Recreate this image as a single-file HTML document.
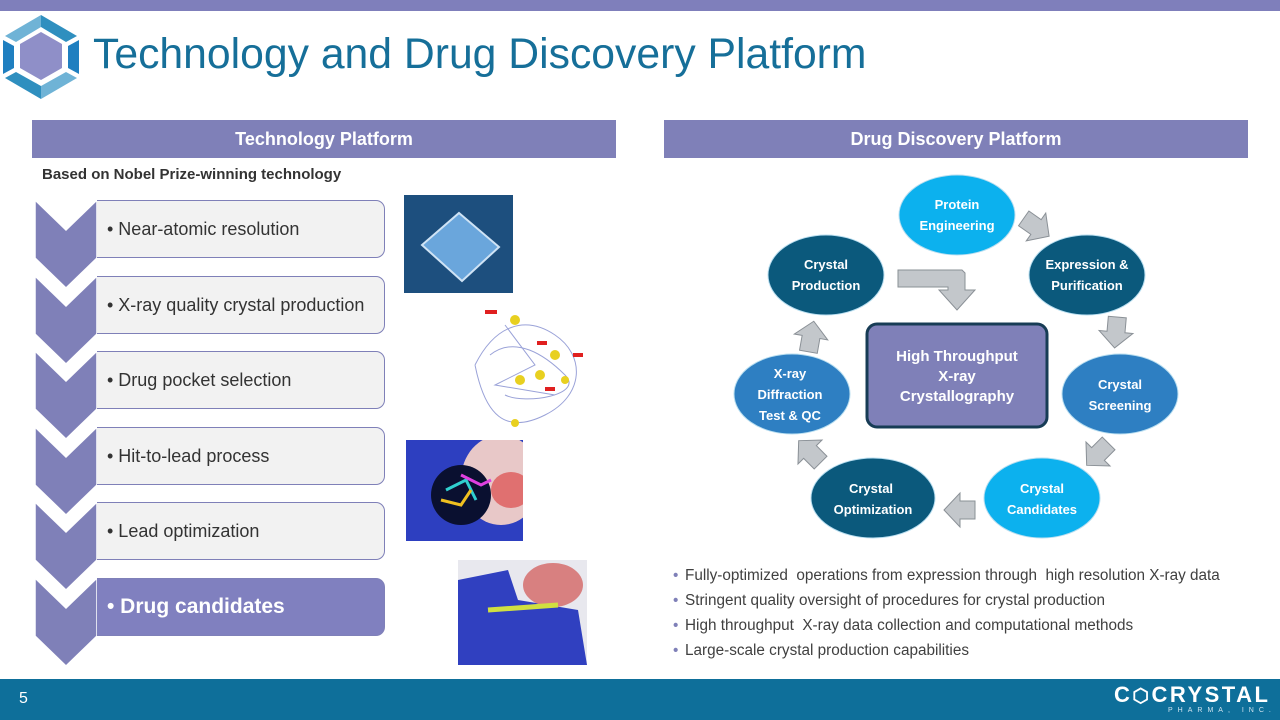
<!DOCTYPE html>
<html><head><meta charset="utf-8"><style>
body{margin:0;width:1280px;height:720px;position:relative;overflow:hidden;background:#fff;font-family:"Liberation Sans",sans-serif}
.abs{position:absolute}
.hdr{position:absolute;top:120px;height:38px;background:#7f80b8;color:#fff;font-weight:bold;font-size:18px;text-align:center;line-height:38px}
.box{position:absolute;left:97px;width:288px;height:58px;background:#f2f2f2;border:1px solid #7f80b8;border-left:none;border-radius:0 9px 9px 0;font-size:18px;color:#333;line-height:56px;padding-left:10px;box-sizing:border-box}
.bl{position:absolute;left:685px;font-size:15.3px;color:#404040;white-space:pre}
.bl:before{content:"•";position:absolute;left:-12px;color:#7f80b8}
</style></head><body>
<div class="abs" style="left:0;top:0;width:1280px;height:11px;background:#7f7fbb"></div>
<svg class="abs" style="left:0;top:12px" width="90" height="90" viewBox="0 0 90 90">
<polygon points="41,20 62,32 62,56 41,68 20,56 20,32" fill="#8f8fc8"/>
<polygon points="41,3 77,24 66,30 41,15" fill="#2f8fbf"/>
<polygon points="41,3 5,24 16,30 41,15" fill="#6fb3d6"/>
<polygon points="79,28 79,62 68,56 68,34" fill="#1f7fc0"/>
<polygon points="3,28 3,62 14,56 14,34" fill="#1f7fc0"/>
<polygon points="41,87 77,66 66,60 41,74" fill="#6fb3d6"/>
<polygon points="41,87 5,66 16,60 41,74" fill="#2f8fbf"/>
</svg>
<div class="abs" style="left:93px;top:30px;font-size:42.7px;color:#166f99">Technology and Drug Discovery Platform</div>
<div class="hdr" style="left:32px;width:584px">Technology Platform</div>
<div class="hdr" style="left:664px;width:584px">Drug Discovery Platform</div>
<div class="abs" style="left:42px;top:166px;font-size:15px;font-weight:bold;color:#333">Based on Nobel Prize-winning technology</div>
<svg class="abs" style="left:0;top:0" width="100" height="720">
<g fill="#7f80b8" stroke="#fff" stroke-width="1.5">
<polygon points="35,200 66,230 97,200 97,258 66,288 35,258"/>
<polygon points="35,276 66,306 97,276 97,334 66,364 35,334"/>
<polygon points="35,351 66,381 97,351 97,409 66,439 35,409"/>
<polygon points="35,427 66,457 97,427 97,485 66,515 35,485"/>
<polygon points="35,502 66,532 97,502 97,560 66,590 35,560"/>
<polygon points="35,578 66,608 97,578 97,636 66,666 35,636"/>
</g></svg>
<div class="box" style="top:200px">• Near-atomic resolution</div>
<div class="box" style="top:276px">• X-ray quality crystal production</div>
<div class="box" style="top:351px">• Drug pocket selection</div>
<div class="box" style="top:427px">• Hit-to-lead process</div>
<div class="box" style="top:502px">• Lead optimization</div>
<div class="box" style="top:578px;background:#8080bf;color:#fff;font-weight:bold;font-size:21px">• Drug candidates</div>
<svg class="abs" style="left:404px;top:195px" width="109" height="98"><rect width="109" height="98" fill="#1d4f7e"/><polygon points="55,18 95,52 58,86 18,50" fill="#6aa6dc" stroke="#cfe3f5" stroke-width="2"/></svg>
<svg class="abs" style="left:465px;top:305px" width="125" height="125"><g fill="none" stroke="#9aa2d8" stroke-width="1"><path d="M10,60 C30,20 60,10 90,30 S120,90 80,110 S20,110 10,60"/><path d="M25,50 C50,30 80,50 100,70 S60,100 40,90"/><path d="M40,20 L70,60 L30,80 L90,90"/></g><g fill="#e8d020"><circle cx="50" cy="15" r="5"/><circle cx="90" cy="50" r="5"/><circle cx="75" cy="70" r="5"/><circle cx="55" cy="75" r="5"/><circle cx="100" cy="75" r="4"/><circle cx="50" cy="118" r="4"/></g><g fill="#e02020"><rect x="20" y="5" width="12" height="4"/><rect x="72" y="36" width="10" height="4"/><rect x="108" y="48" width="10" height="4"/><rect x="80" y="82" width="10" height="4"/></g></svg>
<svg class="abs" style="left:406px;top:440px" width="117" height="101"><rect width="117" height="101" fill="#2d3fc0"/><ellipse cx="95" cy="40" rx="40" ry="45" fill="#e8c8c8"/><ellipse cx="105" cy="50" rx="20" ry="18" fill="#e07070"/><ellipse cx="55" cy="55" rx="30" ry="30" fill="#0a1030"/><g stroke-width="3" fill="none"><path d="M40,50 L60,40 L70,60" stroke="#30d0d0"/><path d="M55,35 L75,45 L85,40" stroke="#e040e0"/><path d="M35,60 L55,65 L65,50" stroke="#f0c020"/></g></svg>
<svg class="abs" style="left:458px;top:560px" width="129" height="105"><rect width="129" height="105" fill="#e8e8ee"/><path d="M0,20 L50,10 L60,40 L120,50 L129,105 L0,105Z" fill="#3040c0"/><ellipse cx="95" cy="25" rx="30" ry="22" fill="#d88080"/><path d="M30,50 L100,45" stroke="#d0e040" stroke-width="5"/></svg>

<svg class="abs" style="left:0;top:0" width="1280" height="720">
<defs><path id="ar" d="M-15,-9 L0,-9 L0,-17 L16,0 L0,17 L0,9 L-15,9Z"/></defs>
<g fill="#c3c7cb" stroke="#8a9096" stroke-width="1">
<polygon points="898,270 962,270 965,273 965,290 975,290 957,310 939,290 948,290 948,287 898,287"/>
<use href="#ar" transform="translate(1036,227) rotate(35)"/>
<use href="#ar" transform="translate(1116,332) rotate(95)"/>
<use href="#ar" transform="translate(1098,454) rotate(135)"/>
<use href="#ar" transform="translate(960,510) rotate(180)"/>
<use href="#ar" transform="translate(810,452) rotate(-135)"/>
<use href="#ar" transform="translate(811,337) rotate(-80)"/>
</g>
<g font-family="Liberation Sans,sans-serif" font-weight="bold" font-size="13" fill="#fff" text-anchor="middle">
<ellipse cx="957" cy="215" rx="58" ry="40" fill="#0cb1ee" stroke="#b8def0"/><text x="957" y="209">Protein</text><text x="957" y="230">Engineering</text>
<ellipse cx="1087" cy="275" rx="58" ry="40" fill="#0b597c" stroke="#b8def0"/><text x="1087" y="269">Expression &amp;</text><text x="1087" y="290">Purification</text>
<ellipse cx="1120" cy="394" rx="58" ry="40" fill="#2e7fc2" stroke="#b8def0"/><text x="1120" y="389">Crystal</text><text x="1120" y="410">Screening</text>
<ellipse cx="1042" cy="498" rx="58" ry="40" fill="#0cb1ee" stroke="#b8def0"/><text x="1042" y="493">Crystal</text><text x="1042" y="514">Candidates</text>
<ellipse cx="873" cy="498" rx="62" ry="40" fill="#0b597c" stroke="#b8def0"/><text x="871" y="493">Crystal</text><text x="873" y="514">Optimization</text>
<ellipse cx="792" cy="394" rx="58" ry="40" fill="#2e7fc2" stroke="#b8def0"/><text x="790" y="378">X-ray</text><text x="790" y="399">Diffraction</text><text x="790" y="420">Test &amp; QC</text>
<ellipse cx="826" cy="275" rx="58" ry="40" fill="#0b597c" stroke="#b8def0"/><text x="826" y="269">Crystal</text><text x="826" y="290">Production</text>
<rect x="867" y="324" width="180" height="103" rx="10" fill="#7f80b8" stroke="#173c55" stroke-width="3"/>
<g font-size="15"><text x="957" y="361">High  Throughput</text><text x="957" y="381">X-ray</text><text x="957" y="401">Crystallography</text></g>
</g></svg>
<div class="bl" style="top:567px">Fully-optimized  operations from expression through  high resolution X-ray data</div>
<div class="bl" style="top:592px">Stringent quality oversight of procedures for crystal production</div>
<div class="bl" style="top:617px">High throughput  X-ray data collection and computational methods</div>
<div class="bl" style="top:642px">Large-scale crystal production capabilities</div>
<div class="abs" style="left:0;top:679px;width:1280px;height:41px;background:#0e6f9a"></div>
<div class="abs" style="left:19px;top:690px;color:#fff;font-size:16px">5</div>
<div class="abs" style="left:1114px;top:682px;color:#fff;font-size:22px;font-weight:bold;letter-spacing:2.5px;white-space:nowrap">C<span style="font-size:19px">⬡</span>CRYSTAL</div>
<div class="abs" style="left:1168px;top:707px;color:#cfe3ef;font-size:7px;letter-spacing:5px;white-space:nowrap">PHARMA, INC.</div>
</body></html>
